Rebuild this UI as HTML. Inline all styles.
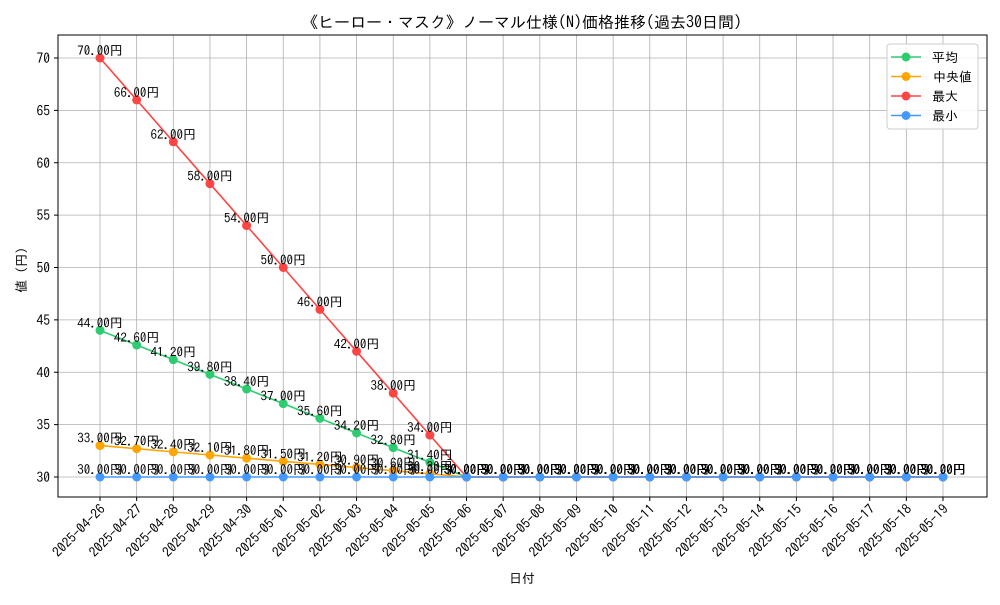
<!DOCTYPE html>
<html><head><meta charset="utf-8"><style>
body{margin:0;background:#fff}
svg text{font-family:"IPAGothic","Noto Sans CJK JP","Liberation Sans",sans-serif;fill:#000}
</style></head><body>
<svg id="c" width="1000" height="600"></svg>
<script>
const dates=["2025-04-26","2025-04-27","2025-04-28","2025-04-29","2025-04-30","2025-05-01","2025-05-02","2025-05-03","2025-05-04","2025-05-05","2025-05-06","2025-05-07","2025-05-08","2025-05-09","2025-05-10","2025-05-11","2025-05-12","2025-05-13","2025-05-14","2025-05-15","2025-05-16","2025-05-17","2025-05-18","2025-05-19"];
const avgVals=[44,42.6,41.2,39.8,38.4,37,35.6,34.2,32.8,31.4,30,30,30,30,30,30,30,30,30,30,30,30,30,30];
const medVals=[33,32.7,32.4,32.1,31.8,31.5,31.2,30.9,30.6,30.3,30,30,30,30,30,30,30,30,30,30,30,30,30,30];
const maxVals=[70,66,62,58,54,50,46,42,38,34,30,30,30,30,30,30,30,30,30,30,30,30,30,30];
const minVals=[30,30,30,30,30,30,30,30,30,30,30,30,30,30,30,30,30,30,30,30,30,30,30,30];
const yTicks=[30,35,40,45,50,55,60,65,70];
const NS="http://www.w3.org/2000/svg",svg=document.getElementById('c');
const L=58,R=987,T=35,B=497;
const x=i=>100+i*(943-100)/(dates.length-1);
const y=v=>477-(v-30)*(477-58)/40;
function mk(t,a,p){const e=document.createElementNS(NS,t);for(const k in a)e.setAttribute(k,a[k]);(p||svg).appendChild(e);return e;}
const grid=mk('g',{});


yTicks.forEach(v=>{mk('line',{x1:L,x2:R,y1:y(v),y2:y(v),stroke:'#b0b0b0','stroke-width':0.8},grid);
const t=mk('text',{x:L-8,y:y(v)+5,'text-anchor':'end','font-size':13.5});t.textContent=v;


mk('line',{x1:L-4,x2:L,y1:y(v),y2:y(v),stroke:'#000'});});
dates.forEach((d,i)=>{mk('line',{x1:x(i),x2:x(i),y1:T,y2:B,stroke:'#b0b0b0','stroke-width':0.8},grid);
mk('line',{x1:x(i),x2:x(i),y1:B,y2:B+4,stroke:'#000'});
const t=mk('text',{x:x(i)+6,y:B+13,'text-anchor':'end','font-size':13.5,transform:`rotate(-45 ${x(i)+6} ${B+13})`});t.textContent=d;

});
const frame=mk('rect',{x:L,y:T,width:R-L,height:B-T,fill:'none',stroke:'#000','stroke-width':1});


const series=[["avg",avgVals,"#2ecc71","平均"],["median",medVals,"#ffa500","中央値"],["max",maxVals,"#ff4444","最大"],["min",minVals,"#4499ff","最小"]];
series.forEach(([n,vals,c])=>{const g=mk('g',{});


mk('polyline',{points:vals.map((v,i)=>x(i)+','+y(v)).join(' '),fill:'none',stroke:c,'stroke-width':1.6},g);
vals.forEach((v,i)=>{const p=mk('circle',{cx:x(i),cy:y(v),r:4.5,fill:c},g);

});});
series.forEach(([n,vals])=>{vals.forEach((v,i)=>{const t=mk('text',{x:x(i),y:y(v)-3,'text-anchor':'middle','font-size':13});t.textContent=v.toFixed(2)+'円';

});});
const ti=mk('text',{x:522,y:28,'text-anchor':'middle','font-size':16});ti.textContent='《ヒーロー・マスク》ノーマル仕様(N)価格推移(過去30日間)';


const xt=mk('text',{x:522,y:583,'text-anchor':'middle','font-size':13});xt.textContent='日付';


const yt=mk('text',{x:26,y:270,'text-anchor':'middle','font-size':13,transform:'rotate(-90 26 270)'});yt.textContent='値 (円)';


const lg=mk('g',{});


mk('rect',{x:887,y:44,width:91,height:85,rx:3,fill:'#fff','fill-opacity':0.85,stroke:'#ccc'},lg);
series.forEach(([n,v,c,lab],k)=>{const yy=57+k*19.5;
const e=mk('g',{},lg);


mk('line',{x1:891,x2:921,y1:yy,y2:yy,stroke:c,'stroke-width':1.6},e);
mk('circle',{cx:906,cy:yy,r:4.5,fill:c},e);
const t=mk('text',{x:n==='median'?933:932,y:yy+5,'font-size':13},e);t.textContent=lab;});
</script>
</body></html>
